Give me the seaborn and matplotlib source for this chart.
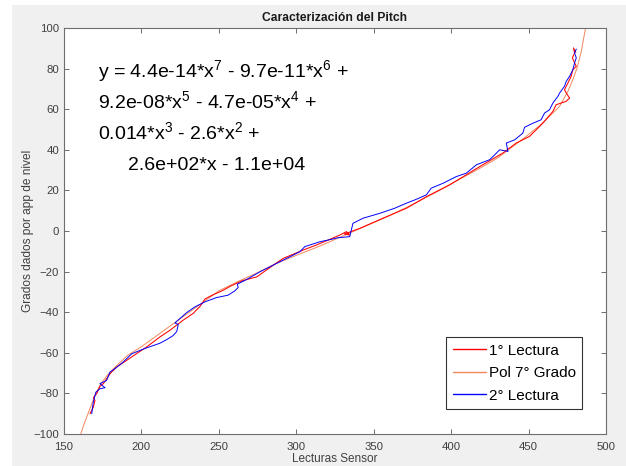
import numpy as np
import pandas as pd
import matplotlib
matplotlib.use("Agg")
import matplotlib.pyplot as plt
import seaborn as sns
from matplotlib.patches import Rectangle
from matplotlib.lines import Line2D

# ---------------- data ----------------
fit_x = [160.8, 163, 165.5, 168, 170.5, 174, 178, 183, 191.5, 200, 210, 220, 230, 240,
         250, 262, 275, 287, 300, 315, 330, 345, 360, 375, 390, 403, 420, 430, 438.8,
         448.5, 457.1, 463.5, 470, 475.4, 478.6, 481.2, 484, 486.8]
fit_y = [-100, -95, -90, -85, -80, -75, -71, -67, -61, -57, -51.5, -46, -40.5, -35,
         -29.5, -25, -20.5, -16, -12, -7.5, -2.5, 2.5, 7.5, 13, 19, 24.5, 31.5, 36, 41,
         46.6, 51.9, 56.5, 61.4, 68.8, 74.6, 80, 88.3, 100]

red_x = [166.8, 168.9, 170, 169, 171.1, 173.2, 175.4, 179.7, 184, 190.5, 196.9, 203.4,
         211.9, 218.4, 227, 233.4, 238, 241, 246, 252, 258, 265, 274.5, 283, 291.5,
         304.4, 313, 322, 328.1, 332.4, 334.5, 331, 341, 356, 371.1, 384, 399, 418.4,
         433.4, 442, 450.6, 459.2, 465.7, 467.8, 474.3, 476.5, 474.3, 473.2, 475.4,
         477.5, 478.6, 480.8, 479.7, 478.3, 479.7, 479, 480.5]
red_y = [-90, -86.8, -83.5, -82, -80.2, -76.5, -75.2, -70.3, -67, -63.7, -60.4, -57.1,
         -52.2, -48.9, -43.9, -40.6, -37, -33.5, -31.5, -29.5, -27, -24.5, -22.6, -18,
         -13.5, -9.4, -6.9, -4, -2, -0.3, -2, -1.5, 1.3, 6.3, 11.2, 16.9, 22.7, 31.7,
         38.4, 43.3, 46.6, 53.1, 58.9, 62.2, 63.9, 65.5, 68, 69.6, 72.9, 76.2, 79.5,
         81.1, 82.8, 85.3, 87.7, 90.2, 88]

blue_x = [167.9, 168.9, 170.6, 173.2, 176.5, 173.2, 177.5, 179.7, 182.9, 188.3, 193.7,
          200.1, 205.5, 211.9, 216.3, 220.5, 222.8, 223.8, 221.6, 229.2, 234.5, 241,
          248.5, 256, 260.3, 262.5, 261.9, 267.9, 276.5, 287.2, 295.8, 302.3, 305.5,
          315.2, 322.7, 327, 334.5, 336.6, 343.1, 353.9, 363.5, 371.1, 376.5, 384,
          387.1, 394.7, 403.3, 409.8, 416.3, 424.8, 428.1, 431.3, 436.7, 435.6, 441,
          446.3, 447.4, 452.8, 458.1, 460.3, 463.5, 465.7, 468.9, 470, 473.2, 474.3,
          476.5, 478.6, 479.7, 480.8, 479.7, 480.8]
blue_y = [-90, -84.3, -79.4, -77.7, -77.2, -75.2, -73.6, -69.5, -67.8, -64.5, -60.5,
          -58.5, -57, -55.3, -53.5, -51.5, -49.5, -46, -45.3, -40.2, -37.4, -34.9,
          -32.8, -31.6, -29.5, -27.8, -26.2, -23.9, -20.1, -16, -12.7, -10.2, -7.7,
          -5.3, -4.1, -3.3, -2.8, 3.8, 6.3, 8.7, 11.2, 13.7, 15.3, 17.8, 21.1, 23.5,
          26.8, 28.5, 32.6, 35.1, 37.5, 40, 39.2, 43.3, 44.9, 48.2, 51.1, 53.1, 54.8,
          58.1, 59.7, 63, 66.3, 67.9, 71.3, 73.7, 76.2, 79.5, 82.8, 85.3, 87.7, 89.6]

x_ticks = [150, 200, 250, 300, 350, 400, 450, 500]
y_ticks = [-100, -80, -60, -40, -20, 0, 20, 40, 60, 80, 100]

eq_lines = [r"y = 4.4e-14*x$^{7}$ - 9.7e-11*x$^{6}$ +",
            r"9.2e-08*x$^{5}$ - 4.7e-05*x$^{4}$ +",
            r"0.014*x$^{3}$ - 2.6*x$^{2}$ +",
            r"2.6e+02*x - 1.1e+04"]
labels = ["1° Lectura", "Pol 7° Grado", "2° Lectura"]
colors = ["#ff0000", "#f2875c", "#0000ff"]

# ---------------- style ----------------
sns.set_theme(style="white")
plt.rcParams["font.family"] = ["Liberation Sans", "DejaVu Sans"]
plt.rcParams["mathtext.fontset"] = "custom"
plt.rcParams["mathtext.rm"] = "Liberation Sans"
plt.rcParams["mathtext.it"] = "Liberation Sans"
plt.rcParams["mathtext.default"] = "regular"

axis_col = "#6e6e6e"
text_col = "#404040"

fig = plt.figure(figsize=(6.26, 4.66), dpi=100, facecolor="white")
fig.patches.append(Rectangle((12 / 626, 0), 1, (466 - 5) / 466, transform=fig.transFigure,
                             facecolor="#f0f0f0", edgecolor="none", zorder=-10))
ax = fig.add_axes([64 / 626, 1 - 434 / 466, (606 - 64) / 626, (434 - 28) / 466])
ax.set_facecolor("white")

red_df = pd.DataFrame({"x": red_x, "y": red_y})
fit_df = pd.DataFrame({"x": fit_x, "y": fit_y})
blue_df = pd.DataFrame({"x": blue_x, "y": blue_y})

sns.lineplot(data=red_df, x="x", y="y", sort=False, estimator=None, ax=ax,
             color=colors[0], lw=0.75, legend=False, zorder=2.2)
sns.lineplot(data=fit_df, x="x", y="y", sort=False, estimator=None, ax=ax,
             color=colors[1], lw=0.7, legend=False, zorder=2.0)
sns.lineplot(data=blue_df, x="x", y="y", sort=False, estimator=None, ax=ax,
             color=colors[2], lw=0.7, legend=False, zorder=2.4)

ax.set_xlim(150, 500)
ax.set_ylim(-100, 100)
ax.set_xticks(x_ticks)
ax.set_yticks(y_ticks)
ax.tick_params(direction="in", length=3.6, width=0.7, colors=axis_col,
               labelcolor=text_col, labelsize=8.2, top=True, right=True,
               bottom=True, left=True)
ax.tick_params(axis="x", pad=6)
ax.tick_params(axis="y", pad=3.5)
for s in ax.spines.values():
    s.set_visible(True)
    s.set_color(axis_col)
    s.set_linewidth(0.8)

ax.set_title("Caracterización del Pitch", fontsize=8.7, fontweight="bold",
             color="#1a1a1a", pad=5)
ax.set_xlabel("Lecturas Sensor", fontsize=8.5, color=text_col)
ax.xaxis.set_label_coords(0.5, -0.0764)
ax.xaxis.label.set_va("bottom")
ax.set_ylabel("Grados dados por app de nivel", fontsize=8.6, color=text_col)
ax.yaxis.set_label_coords(-0.055, 0.5)

eq_pos = [(171.9, 76), (171.9, 60.7), (171.9, 45.4), (191.3, 30.1)]
for (ex, ey), line in zip(eq_pos, eq_lines):
    ax.text(ex, ey, line, fontsize=14, color="black", ha="left", va="baseline")

handles = [Line2D([], [], color=c, lw=1.0) for c in colors]
leg = ax.legend(handles, labels, loc="lower right", bbox_to_anchor=(0.956, 0.0616),
                borderaxespad=0, fontsize=11, frameon=True, fancybox=False,
                shadow=False, handlelength=2.2, handletextpad=0.15,
                labelspacing=0.55, borderpad=0.42)
leg.get_frame().set_edgecolor("#333333")
leg.get_frame().set_linewidth(0.8)
leg.get_frame().set_facecolor("white")
leg.get_frame().set_alpha(1)
for t in leg.get_texts():
    t.set_color("black")

fig.savefig("out.png", dpi=100, facecolor=fig.get_facecolor())
